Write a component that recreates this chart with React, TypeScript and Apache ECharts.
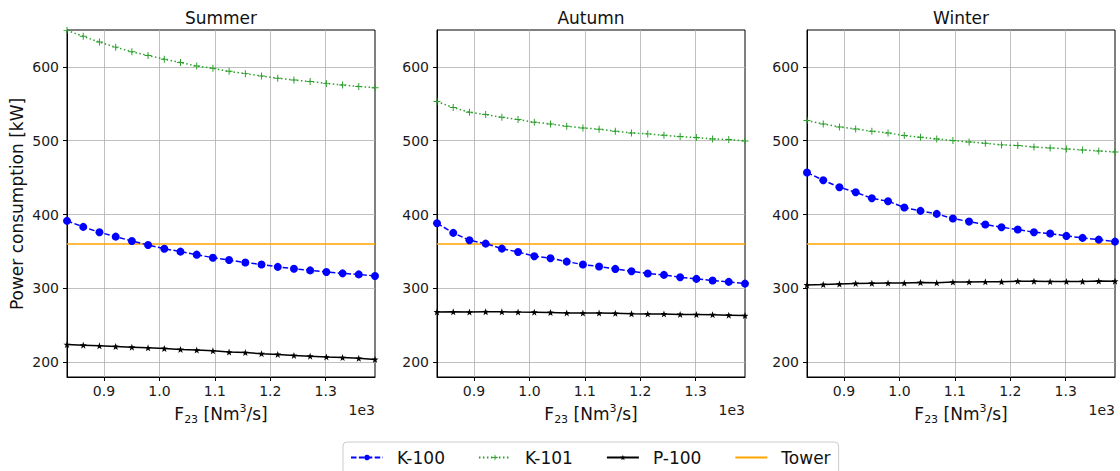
import React, { useEffect, useRef } from "react";
import * as echarts from "echarts";

const seasons = ["Summer", "Autumn", "Winter"];
const flowValues = [833.3, 862.6, 891.8, 921.1, 950.3, 979.5, 1008.8, 1038.0, 1067.3, 1096.5, 1125.7, 1155.0, 1184.2, 1213.5, 1242.7, 1271.9, 1301.2, 1330.4, 1359.6, 1388.9];
const xTicks = [900, 1000, 1100, 1200, 1300];
const yTicks = [200, 300, 400, 500, 600];

const k100Summer = [391.5, 383.3, 376.0, 370.1, 364.3, 358.8, 353.8, 349.8, 345.7, 341.6, 338.5, 335.0, 332.4, 329.2, 326.7, 324.4, 322.2, 320.4, 319.0, 316.9];
const k101Summer = [649.5, 641.4, 633.6, 626.8, 620.5, 615.5, 610.5, 605.9, 601.2, 598.2, 594.0, 590.9, 587.7, 584.8, 582.3, 580.2, 577.7, 575.5, 573.5, 571.8];
const p100Summer = [224.0, 223.1, 222.2, 221.3, 220.4, 219.5, 218.6, 217.4, 216.5, 215.5, 213.8, 213.1, 211.6, 210.6, 209.2, 208.2, 207.2, 206.3, 205.3, 203.8];

const k100Autumn = [388.3, 375.2, 365.2, 360.7, 353.9, 349.4, 343.6, 340.9, 336.3, 332.3, 329.6, 326.4, 323.3, 320.1, 318.3, 315.1, 312.9, 310.6, 308.8, 306.5];
const k101Autumn = [553.0, 544.9, 538.6, 535.4, 531.8, 528.7, 525.0, 522.8, 519.6, 517.4, 515.6, 512.9, 510.6, 509.3, 507.4, 505.6, 504.3, 502.5, 501.6, 499.8];
const p100Autumn = [268.2, 268.3, 268.0, 268.4, 268.3, 268.0, 267.8, 267.4, 266.8, 266.6, 266.6, 266.2, 265.7, 265.5, 265.4, 264.8, 264.6, 264.4, 263.8, 263.2];

const k100Winter = [456.9, 446.5, 437.0, 430.2, 422.1, 418.1, 409.5, 405.0, 400.9, 394.6, 390.5, 386.5, 382.8, 379.7, 376.1, 374.3, 371.1, 368.4, 366.1, 363.4];
const k101Winter = [527.3, 522.8, 518.7, 516.0, 512.9, 510.6, 507.0, 504.7, 502.5, 500.2, 498.4, 496.6, 494.4, 493.5, 491.6, 490.3, 488.9, 487.6, 486.2, 484.9];
const p100Winter = [304.7, 305.3, 306.0, 306.8, 307.0, 307.2, 307.3, 308.0, 307.5, 308.6, 308.8, 308.9, 309.0, 309.8, 309.7, 309.2, 309.3, 309.4, 310.0, 309.8];

const towerValues = [360, 360, 360];

const k100 = [k100Summer, k100Autumn, k100Winter];
const k101 = [k101Summer, k101Autumn, k101Winter];
const p100 = [p100Summer, p100Autumn, p100Winter];

const FONT = "DejaVu Sans";
const PLUS = "path://M4.3,0H5.7V4.3H10V5.7H5.7V10H4.3V5.7H0V4.3H4.3Z";
const STAR = "path://M5,0L6.18,3.38L9.76,3.45L6.9,5.62L7.94,9.05L5,7L2.06,9.05L3.1,5.62L0.24,3.45L3.82,3.38Z";

const gridLefts = [67, 437, 807];
const gridWidth = 308;
const gridTop = 30;
const gridHeight = 347;

export default function App() {
  const ref = useRef<HTMLDivElement>(null);
  useEffect(() => {
    if (!ref.current) return;
    const chart = echarts.init(ref.current, null, { renderer: "svg" });
    const xMin = flowValues[0];
    const xMax = flowValues[flowValues.length - 1];

    const grids = gridLefts.map((l) => ({
      left: l, top: gridTop, width: gridWidth, height: gridHeight,
      show: true, borderColor: "#000", borderWidth: 1, backgroundColor: "transparent",
    }));
    const xAxes = gridLefts.map((_, i) => ({
      type: "value", gridIndex: i, min: xMin, max: xMax,
      axisLine: { show: true, onZero: false, lineStyle: { color: "#000", width: 1 } },
      axisTick: { show: true, customValues: xTicks, length: 4, lineStyle: { color: "#000" } },
      axisLabel: { customValues: xTicks, formatter: (v: number) => (v / 1000).toFixed(1), color: "#1a1a1a", fontSize: 14, fontFamily: FONT, margin: 7 },
      splitLine: { show: true, lineStyle: { color: "#b0b0b0", width: 0.8 } },
    }));
    const yAxes = gridLefts.map((_, i) => ({
      type: "value", gridIndex: i, min: 180, max: 650,
      axisLine: { show: true, lineStyle: { color: "#000", width: 1 } },
      axisTick: { show: true, customValues: yTicks, length: 4, lineStyle: { color: "#000" } },
      axisLabel: { customValues: yTicks, color: "#1a1a1a", fontSize: 14, fontFamily: FONT, margin: 8 },
      splitLine: { show: true, lineStyle: { color: "#b0b0b0", width: 0.8 } },
    }));

    const series: any[] = [];
    seasons.forEach((_, i) => {
      series.push({
        name: "K-100", type: "line", xAxisIndex: i, yAxisIndex: i,
        data: flowValues.map((x, j) => [x, k100[i][j]]),
        symbol: "circle", symbolSize: 8,
        itemStyle: { color: "#0000ff" },
        lineStyle: { color: "#0000ff", width: 1.5, type: [5.5, 2.4] },
        z: 4,
      });
      series.push({
        name: "K-101", type: "line", xAxisIndex: i, yAxisIndex: i,
        data: flowValues.map((x, j) => [x, k101[i][j]]),
        symbol: PLUS, symbolSize: 7,
        itemStyle: { color: "#2ca02c" },
        lineStyle: { color: "#2ca02c", width: 1.5, type: [1.5, 2.5] },
        z: 3,
      });
      series.push({
        name: "P-100", type: "line", xAxisIndex: i, yAxisIndex: i,
        data: flowValues.map((x, j) => [x, p100[i][j]]),
        symbol: STAR, symbolSize: 7,
        itemStyle: { color: "#000" },
        lineStyle: { color: "#000", width: 1.5 },
        z: 3,
      });
      series.push({
        name: "Tower", type: "line", xAxisIndex: i, yAxisIndex: i,
        data: [[xMin, towerValues[i]], [xMax, towerValues[i]]],
        showSymbol: false, symbol: "none", symbolSize: 0,
        itemStyle: { color: "#ffa500" },
        lineStyle: { color: "#ffa500", width: 1.5 },
        z: 2,
      });
    });

    const graphics: any[] = [];
    seasons.forEach((s, i) => {
      const cx = gridLefts[i] + gridWidth / 2;
      graphics.push({
        type: "text", x: cx, y: 18,
        style: { text: s, fontSize: 17, fontFamily: FONT, fill: "#111", textAlign: "center", textVerticalAlign: "middle", align: "center", verticalAlign: "middle" },
      });
      graphics.push({
        type: "text", x: cx, y: 414,
        style: {
          text: "{m|F}{sub|23}{m| [Nm}{sup|3}{m|/s]}",
          textAlign: "center", textVerticalAlign: "middle", align: "center", verticalAlign: "middle",
          rich: {
            m: { fontSize: 17, fontFamily: FONT, fill: "#111", lineHeight: 22 },
            sub: { fontSize: 11, fontFamily: FONT, fill: "#111", lineHeight: 11, verticalAlign: "bottom" },
            sup: { fontSize: 11, fontFamily: FONT, fill: "#111", lineHeight: 11, verticalAlign: "top" },
          },
        },
      });
      graphics.push({
        type: "text", x: gridLefts[i] + gridWidth, y: 410,
        style: { text: "1e3", fontSize: 14, fontFamily: FONT, fill: "#1a1a1a", textAlign: "right", textVerticalAlign: "middle", align: "right", verticalAlign: "middle" },
      });
    });
    graphics.push({
      type: "text", x: 17, y: 204, rotation: Math.PI / 2,
      style: { text: "Power consumption [kW]", fontSize: 17, fontFamily: FONT, fill: "#111", textAlign: "center", textVerticalAlign: "middle", align: "center", verticalAlign: "middle" },
    });

    chart.setOption({
      animation: false,
      backgroundColor: "#fff",
      grid: grids,
      xAxis: xAxes,
      yAxis: yAxes,
      series,
      graphic: graphics,
      legend: {
        data: [
          "K-100",
          "K-101",
          "P-100",
          { name: "Tower", itemStyle: { color: "transparent", borderColor: "transparent", opacity: 0 } },
        ],
        left: 343, top: 442,
        padding: [7, 8, 12, 7],
        itemWidth: 32, itemHeight: 7, itemGap: 33,
        borderColor: "#cccccc", borderWidth: 1, borderRadius: 4,
        backgroundColor: "#fff",
        textStyle: { fontSize: 17, fontFamily: FONT, color: "#111", padding: [0, 0, 0, 9] },
      },
    });
    return () => chart.dispose();
  }, []);
  return <div ref={ref} style={{ position: "fixed", left: 0, top: 0, width: 1120, height: 471 }} />;
}
